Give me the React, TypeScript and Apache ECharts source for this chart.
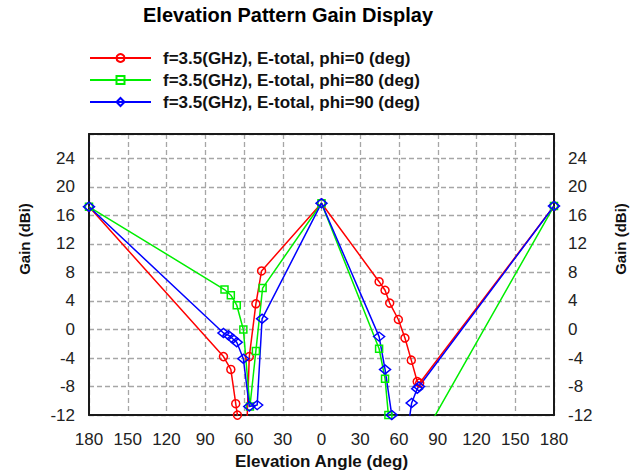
import React, { useEffect, useRef } from "react";
import * as echarts from "echarts";

// Elevation angle (left half negative = mirrored side), gain in dBi
const seriesNames = [
  "f=3.5(GHz), E-total, phi=0 (deg)",
  "f=3.5(GHz), E-total, phi=80 (deg)",
  "f=3.5(GHz), E-total, phi=90 (deg)",
];

const phi0Data: [number, number][] = [
  [-180, 17.2], [-75.9, -3.8], [-70.2, -5.6], [-66.4, -10.4], [-65.1, -12.0],
  [-61, -30], [-55.9, -3.8], [-50.8, 3.6], [-46.4, 8.2], [0, 17.7],
  [44.6, 6.7], [49.2, 5.5], [52.8, 3.7], [59.5, 1.4], [64.6, -1.2],
  [69.5, -4.3], [74.1, -7.3], [76, -7.5], [180, 17.3],
];

const phi80Data: [number, number][] = [
  [-180, 17.2], [-75.1, 5.6], [-70.2, 4.8], [-65.6, 3.4], [-60.5, 0.0],
  [-55.4, -10.8], [-50.8, -3.0], [-45.6, 5.8], [0, 17.7],
  [44.6, -2.7], [49.2, -6.9], [51.8, -12.0], [85, -13], [180, 17.3],
];

const phi90Data: [number, number][] = [
  [-180, 17.2], [-75.9, -0.5], [-72, -0.8], [-68.7, -1.3], [-65.6, -1.8],
  [-60.5, -4.1], [-55.9, -10.8], [-49.8, -10.6], [-46, 1.5], [0, 17.7],
  [44.6, -1.0], [49.2, -5.6], [54.4, -12.0], [62, -20], [69.8, -10.3],
  [74.1, -8.3], [75.5, -8.0], [180, 17.3],
];

const seriesColors = ["#ff0000", "#00ee00", "#0000ff"];
const seriesSymbols = ["circle", "rect", "diamond"];

const X_MIN = -180;
const X_MAX = 180;
const X_STEP = 30;
const Y_MIN = -12;
const Y_MAX = 27.4;
const Y_STEP = 4;

const FONT = "'Liberation Sans', Arial, sans-serif";

export default function App() {
  const ref = useRef<HTMLDivElement>(null);

  useEffect(() => {
    if (!ref.current) return;
    const chart = echarts.init(ref.current, undefined, { renderer: "svg" });

    const datasets = [phi0Data, phi80Data, phi90Data];
    const symbolSizes: any[] = [8, 7, [11, 9]];

    const series = datasets.map((d, i) => ({
      type: "line",
      name: seriesNames[i],
      data: d,
      xAxisIndex: 0,
      yAxisIndex: 0,
      clip: true,
      symbol: seriesSymbols[i],
      symbolSize: symbolSizes[i],
      showAllSymbol: true,
      lineStyle: { color: seriesColors[i], width: 1.5 },
      itemStyle: {
        color: "rgba(255,255,255,0)",
        borderColor: seriesColors[i],
        borderWidth: 1.5,
      },
      emphasis: { disabled: true },
    }));

    const frame = {
      show: true,
      onZero: false,
      lineStyle: { color: "#1a1a1a", width: 2 },
    };
    const dashed = {
      show: true,
      lineStyle: { color: "#a6a6a6", width: 1.3, type: [5, 3] },
    };

    chart.setOption({
      animation: false,
      backgroundColor: "#ffffff",
      title: {
        text: "Elevation Pattern Gain Display",
        left: 143,
        top: 5,
        padding: 0,
        textStyle: {
          fontFamily: FONT,
          fontSize: 20,
          fontWeight: "bold",
          color: "#000",
        },
      },
      legend: {
        orient: "vertical",
        left: 89,
        top: 49,
        padding: 0,
        itemWidth: 61,
        itemHeight: 10,
        itemGap: 4,
        selectedMode: false,
        textStyle: {
          fontFamily: FONT,
          fontSize: 17,
          fontWeight: "bold",
          color: "#111",
          padding: [0, 0, 0, 7],
          lineHeight: 18,
        },
        data: seriesNames,
      },
      grid: { left: 89, right: 86, top: 134, bottom: 59, containLabel: false },
      xAxis: [
        {
          type: "value",
          position: "bottom",
          min: X_MIN,
          max: X_MAX,
          interval: X_STEP,
          axisLine: frame,
          axisTick: { show: false },
          splitLine: dashed,
          axisLabel: {
            margin: 16,
            fontFamily: FONT,
            fontSize: 17,
            color: "#222",
            formatter: (v: number) => String(Math.abs(v)),
          },
          name: "Elevation Angle (deg)",
          nameLocation: "middle",
          nameGap: 36,
          nameTextStyle: {
            fontFamily: FONT,
            fontSize: 17,
            fontWeight: "bold",
            color: "#111",
          },
        },
        {
          type: "value",
          position: "top",
          min: X_MIN,
          max: X_MAX,
          interval: X_STEP,
          axisLine: frame,
          axisTick: { show: false },
          axisLabel: { show: false },
          splitLine: { show: false },
        },
      ],
      yAxis: [
        {
          type: "value",
          position: "left",
          min: Y_MIN,
          max: Y_MAX,
          interval: Y_STEP,
          axisLine: frame,
          axisTick: { show: false },
          splitLine: dashed,
          axisLabel: {
            margin: 14,
            showMaxLabel: false,
            fontFamily: FONT,
            fontSize: 17,
            color: "#222",
          },
        },
        {
          type: "value",
          position: "right",
          min: Y_MIN,
          max: Y_MAX,
          interval: Y_STEP,
          axisLine: frame,
          axisTick: { show: false },
          splitLine: { show: false },
          axisLabel: {
            margin: 14,
            showMaxLabel: false,
            fontFamily: FONT,
            fontSize: 17,
            color: "#222",
          },
        },
      ],
      graphic: [
        {
          type: "text",
          x: 24,
          y: 239,
          rotation: Math.PI / 2,
          style: {
            text: "Gain (dBi)",
            fontFamily: FONT,
            fontSize: 15,
            fontWeight: "bold",
            fill: "#111",
            align: "center",
            verticalAlign: "middle",
          },
        },
        {
          type: "text",
          x: 620,
          y: 239,
          rotation: Math.PI / 2,
          style: {
            text: "Gain (dBi)",
            fontFamily: FONT,
            fontSize: 15,
            fontWeight: "bold",
            fill: "#111",
            align: "center",
            verticalAlign: "middle",
          },
        },
      ],
      series,
    });

    return () => chart.dispose();
  }, []);

  return (
    <div
      ref={ref}
      style={{ position: "absolute", left: 0, top: 0, width: 640, height: 475 }}
    />
  );
}
